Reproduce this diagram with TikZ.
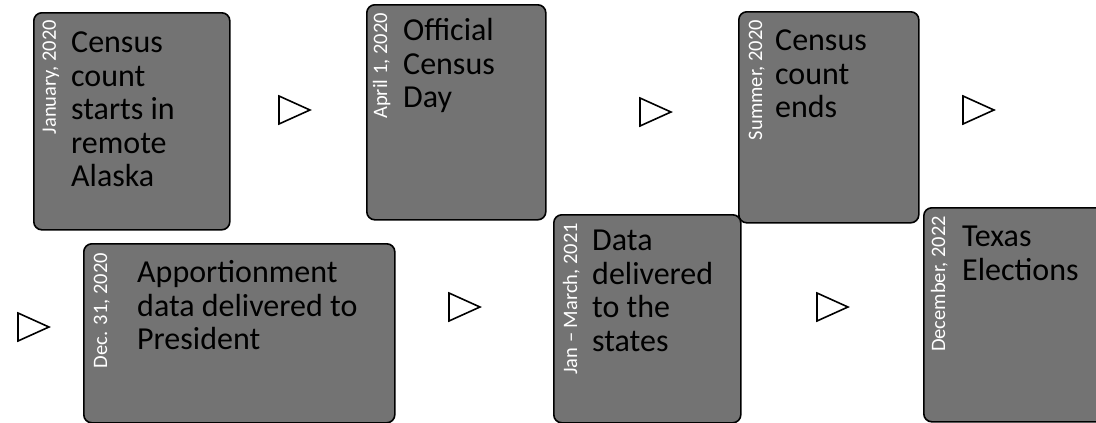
\documentclass[tikz,border=0pt]{standalone}
\usepackage{fontspec}
\setmainfont{Carlito}
\usetikzlibrary{shapes.geometric}
\definecolor{boxgray}{HTML}{737373}
\tikzset{
  eventbox/.style={rectangle, draw=black, line width=1.6pt, fill=boxgray, rounded corners=8pt, anchor=north west, inner sep=0pt},
  datelabel/.style={rotate=90, anchor=base east, inner sep=0pt, text=white, font=\fontsize{20.5}{23}\selectfont},
  eventtext/.style={anchor=north west, inner sep=0pt, align=left, text=black, font=\fontsize{32}{33.5}\selectfont},
  nextmark/.style={isosceles triangle, isosceles triangle stretches, draw=black, line width=1.6pt, fill=white, minimum width=28pt, minimum height=31pt, inner sep=0pt}
}
\begin{document}
\begin{tikzpicture}[x=1pt, y=-1pt]
      \useasboundingbox (0,0) rectangle (1096,423);

      % top row
      \node[eventbox, minimum width=196pt, minimum height=217pt] (jan) at (33,12) {};
      \node[eventbox, minimum width=179pt, minimum height=215pt] (apr) at (366,4) {};
      \node[eventbox, minimum width=180pt, minimum height=211pt] (sum) at (738,11) {};

      % bottom row
      \node[eventbox, minimum width=311pt, minimum height=179pt] (dec) at (83,243) {};
      \node[eventbox, minimum width=187pt, minimum height=208pt] (mar) at (553,214) {};
      \node[eventbox, minimum width=260pt, minimum height=214pt] (tex) at (923,207) {};

      % dates
      \node[datelabel] (jandate) at (56,20) {January, 2020};
      \node[datelabel] (aprdate) at (387,13) {April 1, 2020};
      \node[datelabel] (sumdate) at (762,20) {Summer, 2020};
      \node[datelabel] (decdate) at (107,253) {Dec. 31, 2020};
      \node[datelabel] (mardate) at (577,223) {Jan -- March, 2021};
      \node[datelabel] (texdate) at (945,216) {December, 2022};

      % events
      \node[eventtext] (jantext) at (71,29) {\strut Census\\count\\starts in\\remote\\Alaska};
      \node[eventtext] (aprtext) at (403,17) {\strut Official\\Census\\Day};
      \node[eventtext] (sumtext) at (775,27) {\strut Census\\count\\ends};
      \node[eventtext] (dectext) at (137,259) {\strut Apportionment\\data delivered to\\President};
      \node[eventtext] (martext) at (592,227) {\strut Data\\delivered\\to the\\states};
      \node[eventtext] (textext) at (962,223) {\strut Texas\\Elections};

      % arrows
      \node[nextmark] (m1) at (288,110) {};
      \node[nextmark] (m2) at (649,112) {};
      \node[nextmark] (m3) at (972,110) {};
      \node[nextmark] (m4) at (27,327) {};
      \node[nextmark] (m5) at (458,307) {};
      \node[nextmark] (m6) at (826,307) {};
\end{tikzpicture}
\end{document}
